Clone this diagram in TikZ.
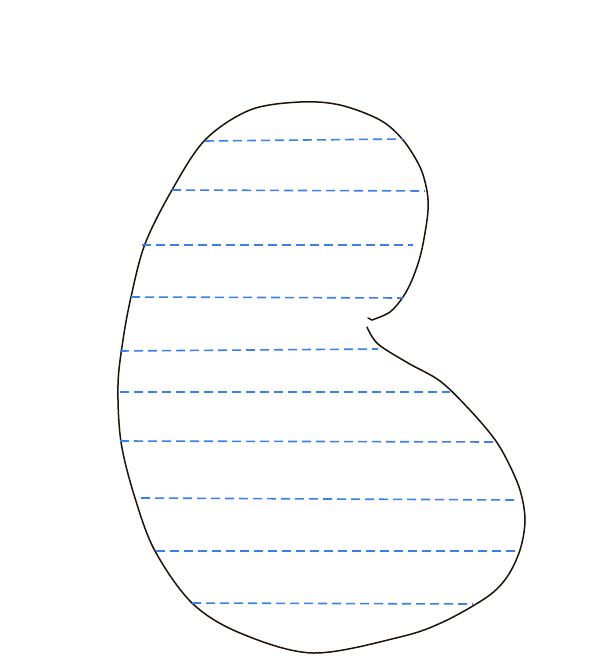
\documentclass[tikz,border=0pt]{standalone}
\begin{document}
\begin{tikzpicture}[x=1bp,y=-1bp,
  outline/.style={draw=black!85!brown,line width=1.5bp,line join=round,line cap=round},
  hatch/.style={draw={rgb,255:red,59;green,128;blue,232},line width=1.6bp,dash pattern=on 9bp off 5bp}]
\useasboundingbox[fill=white] (0,0) rectangle (616,666);
\draw[outline] plot[smooth,tension=0.55] coordinates{
 (367,327) (378,344) (408,363) (440,381) (468,408) (493,437) (507,460) (520,490) (525,520) (520,550)
 (507,577) (487,597) (443,622) (400,637) (313,653) (240,633) (192,603) (155,551)
 (135,498) (121,442) (118,385) (123,340) (131,297) (145,244) (172,190) (205,140)
 (250,110) (300,102) (340,105) (380,120) (403,140) (420,167) (427,191) (428,210) (425,233)
 (420,257) (412,280) (403,297) (390,312) (372,320)};
\draw[outline] (372,320) -- (368,318);
\draw[hatch] (205,141) -- (403,139);
\draw[hatch] (172,190) -- (425,191);
\draw[hatch] (142,245) -- (413,245);
\draw[hatch] (131,297) -- (403,298);
\draw[hatch] (120,351) -- (378,349);
\draw[hatch] (120,392) -- (450,392);
\draw[hatch] (120,441) -- (495,442);
\draw[hatch] (141,498) -- (517,500);
\draw[hatch] (156,551) -- (517,551);
\draw[hatch] (192,603) -- (473,604);
\end{tikzpicture}
\end{document}
